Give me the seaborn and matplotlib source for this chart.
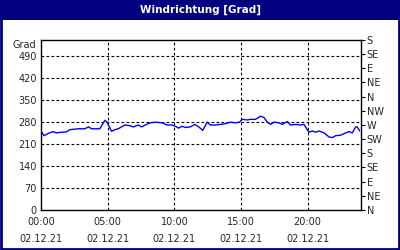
import matplotlib
matplotlib.use("Agg")
import matplotlib.pyplot as plt
from matplotlib.patches import Rectangle
from matplotlib.ticker import MultipleLocator
import seaborn as sns
import pandas as pd

# ---- data ----
hours = [0.0, 0.23, 0.53, 0.9, 1.15, 1.53, 1.9, 2.15, 2.78, 3.28, 3.58, 3.78, 4.41,
         4.79, 4.96, 5.29, 5.54, 5.79, 6.29, 6.67, 6.92, 7.29, 7.54, 7.82, 8.2, 8.57,
         9.07, 9.45, 9.83, 10.08, 10.32, 10.58, 10.83, 11.2, 11.53, 11.83, 12.13, 12.46,
         12.7, 13.08, 13.46, 13.83, 14.2, 14.59, 14.9, 15.09, 15.47, 15.71, 16.09, 16.47,
         16.72, 16.97, 17.22, 17.47, 17.85, 18.1, 18.47, 18.72, 19.1, 19.47, 19.72, 19.97,
         20.1, 20.35, 20.6, 20.85, 21.23, 21.6, 21.85, 22.1, 22.5, 22.85, 23.1, 23.35,
         23.6, 23.72, 23.9]
direction = [250, 236, 243, 249, 245, 247, 248, 255, 258, 258, 264, 258, 258,
             285, 279, 250, 255, 258, 270, 268, 264, 270, 264, 270, 277, 279,
             277, 270, 270, 266, 260, 266, 262, 264, 272, 264, 253, 279,
             270, 270, 272, 274, 279, 277, 279, 288, 286, 288, 288, 298,
             294, 279, 272, 279, 277, 272, 281, 270, 272, 270, 272, 255,
             247, 251, 247, 251, 245, 232, 230, 236, 238, 245, 249, 245,
             264, 264, 251]

x_ticks = [0, 5, 10, 15, 20]
x_labels = ["00:00\n02.12.21", "05:00\n02.12.21", "10:00\n02.12.21",
            "15:00\n02.12.21", "20:00\n02.12.21"]
y_ticks = [0, 70, 140, 210, 280, 350, 420, 490]
compass_ticks = [0, 45, 90, 135, 180, 225, 270, 315, 360, 405, 450, 495, 540]
compass_labels = ["N", "NE", "E", "SE", "S", "SW", "W", "NW", "N", "NE", "E", "SE", "S"]
title = "Windrichtung [Grad]"
unit = "Grad"

df = pd.DataFrame({"h": hours, "deg": direction})

sns.set_style("white")
plt.rcParams["font.family"] = ["DejaVu Sans"]

NAVY = "#000080"
fig = plt.figure(figsize=(4, 2.5), dpi=100, facecolor="white")

# title bar and border
fig.patches.append(Rectangle((0, 1 - 20 / 250), 1, 20 / 250, transform=fig.transFigure,
                             facecolor=NAVY, edgecolor="none", zorder=0))
fig.patches.append(Rectangle((0.002, 0.003), 0.996, 0.995, transform=fig.transFigure,
                             facecolor="none", edgecolor=NAVY, linewidth=2, zorder=5))
fig.text(0.5, 1 - 10 / 250, title, color="white", fontsize=7.5, fontweight="bold",
         ha="center", va="center")

ax = fig.add_axes([41 / 400, 1 - 210 / 250, 320 / 400, 170 / 250])
ax.set_facecolor("white")
sns.lineplot(data=df, x="h", y="deg", ax=ax, color="#0000ff", linewidth=1)
ax.set_xlim(0, 24)
ax.set_ylim(0, 540)
ax.set_xlabel("")
ax.set_ylabel("")

ax.set_xticks(x_ticks)
ax.set_xticklabels(x_labels, fontsize=7, linespacing=1.9)
ax.xaxis.set_minor_locator(MultipleLocator(1))
ax.tick_params(axis="x", which="both", direction="in", length=3, width=0.8,
               color="black", pad=5, top=False)
ax.set_yticks(y_ticks)
ax.set_yticklabels([str(v) for v in y_ticks], fontsize=7)
ax.tick_params(axis="y", length=0, pad=3)

for s in ax.spines.values():
    s.set_color("black")
    s.set_linewidth(1)
    s.set_visible(True)

dash = (0, (2.5, 2))
for v in y_ticks[1:]:
    ax.axhline(v, color="black", linewidth=0.8, linestyle=dash, zorder=1)
for v in x_ticks[1:]:
    ax.axvline(v, color="black", linewidth=0.8, linestyle=dash, zorder=1)

ax.text(-0.015, 0.97, unit, transform=ax.transAxes, ha="right", va="center", fontsize=7)

ax2 = ax.twinx()
ax2.set_ylim(0, 540)
ax2.set_yticks(compass_ticks)
ax2.set_yticklabels(compass_labels, fontsize=7)
ax2.tick_params(axis="y", direction="out", length=3, width=0.8, color="black", pad=1)
for s in ax2.spines.values():
    s.set_visible(False)

fig.savefig("out.png", dpi=100, facecolor="white")
